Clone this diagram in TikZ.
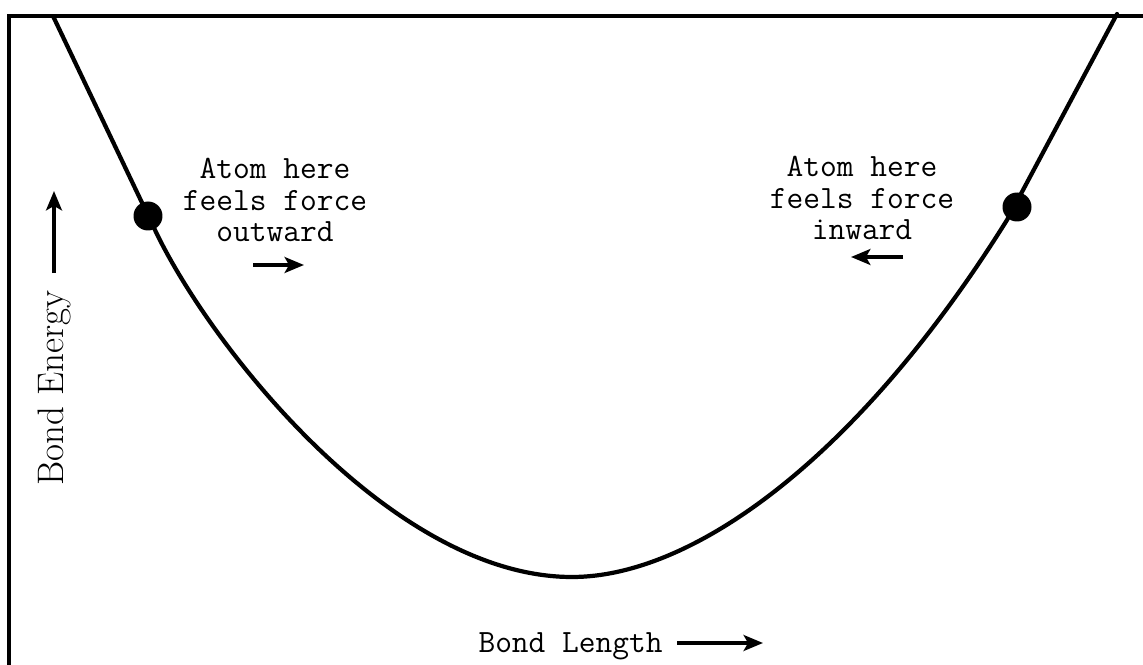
\documentclass[tikz,border=0pt]{standalone}
\usetikzlibrary{arrows.meta,positioning}

\begin{document}
\begin{tikzpicture}[
  x=0.02cm,y=-0.02cm,
  lbl/.style ={font=\fontsize{18.5}{18}\selectfont\ttfamily,align=center,inner sep=0pt},
  axlbl/.style={font=\fontsize{21}{24}\selectfont\rmfamily,inner sep=0pt},
  atom/.style={circle,fill,inner sep=0pt,minimum size=0.58cm},
  arr/.style ={-{Stealth[length=11pt,width=9pt,inset=2.5pt]},line width=2.2pt},
  curve/.style={line width=2.4pt,line join=round,line cap=round}
]
\useasboundingbox (0,0) rectangle (1143,665);

% open frame: left and top sides only
\draw[line width=2.4pt] (9,665) -- (9,16) -- (1143,16);

\node[atom](lft) at (148,216){};
\node[atom](rgt) at (1017,207){};
\coordinate (lend) at (53,16);
\coordinate (rend) at (1117,14);
\coordinate (bot) at (572,577);

% bond energy curve
\draw[curve] (lend) -- (155,230) .. controls (210,346) and (392,577) .. (bot)
  .. controls (692,577) and (857,460) .. (1007,220) -- (rend);

\node[lbl](outtxt) at (275,200){Atom here\\feels force\\outward};
\node[lbl](intxt) at (862,198){Atom here\\feels force\\inward};

\coordinate (outA) at (253,265); \coordinate (outB) at (304,265);
\coordinate (inA) at (903,257);  \coordinate (inB) at (851,257);
\draw[arr](outA)--(outB);
\draw[arr](inA)--(inB);

% axis labels
\node[axlbl,rotate=90,anchor=east](eng) at (54,290){Bond Energy};
\coordinate (engtip) at (54,191);
\draw[arr,shorten <=0.34cm](eng.east)--(engtip);

\node[lbl,anchor=base east](len) at (663,652){Bond Length};
\coordinate (lentip) at (763,643);
\draw[arr,shorten <=0.28cm](len.east|-lentip)--(lentip);
\end{tikzpicture}
\end{document}
